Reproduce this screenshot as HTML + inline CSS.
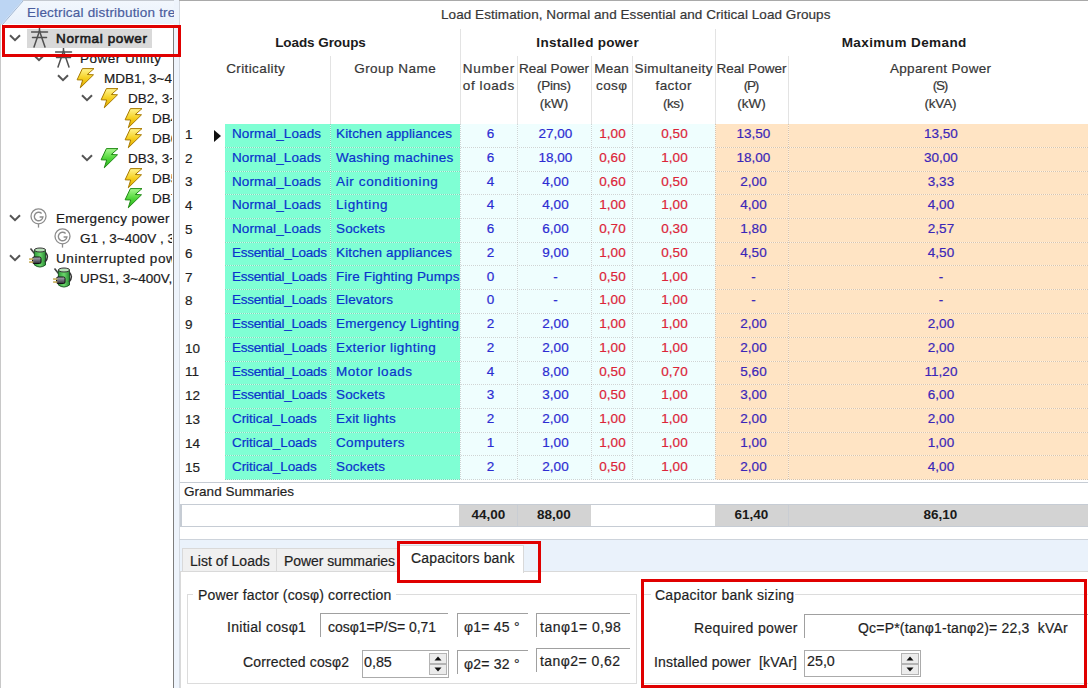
<!DOCTYPE html>
<html><head><meta charset="utf-8"><style>
html,body{margin:0;padding:0;}
body{width:1088px;height:688px;overflow:hidden;position:relative;background:#fff;font-family:"Liberation Sans", sans-serif;}
.t{position:absolute;white-space:pre;-webkit-text-stroke:0.2px currentColor;}
.r{position:absolute;box-sizing:content-box;}
</style></head><body>
<div class="r" style="left:0px;top:0px;width:1088px;height:1px;background:#a9a9a9;"></div>
<div class="r" style="left:0px;top:0px;width:179px;height:1px;background:#c4c9d0;"></div>
<div class="r" style="left:0px;top:1px;width:179px;height:23px;background:linear-gradient(#f2f7fd,#e9f1fb);"></div>
<svg class="r" style="left:0;top:0" width="30" height="26"><polygon points="0,0 23,0 1,25 0,25" fill="#bcd5f3"/><line x1="23" y1="1" x2="2" y2="25" stroke="#9fb6d3" stroke-width="1"/></svg>
<div class="t" style="left:27px;top:5px;font-size:13.5px;line-height:15px;color:#4a5d9e;letter-spacing:0.192px;width:147px;overflow:hidden;">Electrical distribution tree</div>
<div class="r" style="left:0px;top:24px;width:1px;height:664px;background:#c8c8c8;"></div>
<div class="r" style="left:173px;top:25px;width:1px;height:663px;background:#7d7d7d;"></div>
<div class="r" style="left:174px;top:0px;width:5px;height:688px;background:#eef4fc;"></div>
<div class="r" style="left:179px;top:0px;width:1px;height:688px;background:#d3d8df;"></div>
<div class="r" style="left:179px;top:0px;width:1px;height:1px;background:#a9a9a9;"></div>
<div class="r" style="left:27px;top:29px;width:125px;height:19px;background:#d9d9d9;"></div>
<svg width="0" height="0" style="position:absolute"><defs><linearGradient id="y" x1="0" y1="0" x2="0" y2="1"><stop offset="0" stop-color="#fff590"/><stop offset="0.5" stop-color="#f5d020"/><stop offset="1" stop-color="#e0a800"/></linearGradient><linearGradient id="g" x1="0" y1="0" x2="0" y2="1"><stop offset="0" stop-color="#a8f890"/><stop offset="0.5" stop-color="#52d83a"/><stop offset="1" stop-color="#2ab020"/></linearGradient><linearGradient id="ug" x1="0" y1="0" x2="1" y2="0"><stop offset="0" stop-color="#2f9a3a"/><stop offset="0.5" stop-color="#6bd86b"/><stop offset="1" stop-color="#2a8a35"/></linearGradient><linearGradient id="pg" x1="0" y1="0" x2="0" y2="1"><stop offset="0" stop-color="#b0b0bc"/><stop offset="1" stop-color="#303038"/></linearGradient></defs></svg>
<svg class="r" style="left:9px;top:34px" width="12" height="8"><polyline points="1,1.2 6,6.2 11,1.2" fill="none" stroke="#555" stroke-width="2"/></svg>
<svg class="r" style="left:31px;top:28px" width="18" height="20"><g stroke="#505050" stroke-width="1.5" fill="none" stroke-linecap="round"><line x1="8.5" y1="0.5" x2="8.5" y2="4"/><line x1="0.5" y1="4" x2="16.5" y2="4"/><line x1="1.5" y1="9.5" x2="15.5" y2="9.5"/><line x1="8.5" y1="3" x2="3" y2="19"/><line x1="8.5" y1="3" x2="14" y2="19"/></g></svg>
<div class="t" style="left:56px;top:31px;font-size:13.5px;line-height:15px;color:#1a1a1a;letter-spacing:0.634px;width:116px;overflow:hidden;-webkit-text-stroke:0.6px #1a1a1a;">Normal power</div>
<svg class="r" style="left:33px;top:54px" width="12" height="8"><polyline points="1,1.2 6,6.2 11,1.2" fill="none" stroke="#555" stroke-width="2"/></svg>
<svg class="r" style="left:55px;top:48px" width="18" height="20"><g stroke="#505050" stroke-width="1.5" fill="none" stroke-linecap="round"><line x1="8.5" y1="0.5" x2="8.5" y2="4"/><line x1="0.5" y1="4" x2="16.5" y2="4"/><line x1="1.5" y1="9.5" x2="15.5" y2="9.5"/><line x1="8.5" y1="3" x2="3" y2="19"/><line x1="8.5" y1="3" x2="14" y2="19"/></g></svg>
<div class="t" style="left:80px;top:51px;font-size:13.5px;line-height:15px;color:#1a1a1a;letter-spacing:0.499px;width:92px;overflow:hidden;">Power Utility</div>
<svg class="r" style="left:57px;top:74px" width="12" height="8"><polyline points="1,1.2 6,6.2 11,1.2" fill="none" stroke="#555" stroke-width="2"/></svg>
<svg class="r" style="left:76px;top:68px" width="20" height="22"><polygon points="6.4,0.6 18,0.6 11.3,6.5 17.5,6.8 4.3,19.8 6.7,12 1.1,11.8" fill="url(#y)" stroke="#a87a00" stroke-width="1" stroke-linejoin="round"/></svg>
<div class="t" style="left:104px;top:71px;font-size:13.5px;line-height:15px;color:#1a1a1a;width:68px;overflow:hidden;">MDB1, 3~400V, 50Hz</div>
<svg class="r" style="left:81px;top:94px" width="12" height="8"><polyline points="1,1.2 6,6.2 11,1.2" fill="none" stroke="#555" stroke-width="2"/></svg>
<svg class="r" style="left:100px;top:88px" width="20" height="22"><polygon points="6.4,0.6 18,0.6 11.3,6.5 17.5,6.8 4.3,19.8 6.7,12 1.1,11.8" fill="url(#y)" stroke="#a87a00" stroke-width="1" stroke-linejoin="round"/></svg>
<div class="t" style="left:128px;top:91px;font-size:13.5px;line-height:15px;color:#1a1a1a;width:44px;overflow:hidden;">DB2, 3~400V</div>
<svg class="r" style="left:124px;top:108px" width="20" height="22"><polygon points="6.4,0.6 18,0.6 11.3,6.5 17.5,6.8 4.3,19.8 6.7,12 1.1,11.8" fill="url(#y)" stroke="#a87a00" stroke-width="1" stroke-linejoin="round"/></svg>
<div class="t" style="left:152px;top:111px;font-size:13.5px;line-height:15px;color:#1a1a1a;width:20px;overflow:hidden;">DB4, 3~400V</div>
<svg class="r" style="left:124px;top:128px" width="20" height="22"><polygon points="6.4,0.6 18,0.6 11.3,6.5 17.5,6.8 4.3,19.8 6.7,12 1.1,11.8" fill="url(#y)" stroke="#a87a00" stroke-width="1" stroke-linejoin="round"/></svg>
<div class="t" style="left:152px;top:131px;font-size:13.5px;line-height:15px;color:#1a1a1a;width:20px;overflow:hidden;">DB6, 3~400V</div>
<svg class="r" style="left:81px;top:154px" width="12" height="8"><polyline points="1,1.2 6,6.2 11,1.2" fill="none" stroke="#555" stroke-width="2"/></svg>
<svg class="r" style="left:100px;top:148px" width="20" height="22"><polygon points="6.4,0.6 18,0.6 11.3,6.5 17.5,6.8 4.3,19.8 6.7,12 1.1,11.8" fill="url(#g)" stroke="#1f8a14" stroke-width="1" stroke-linejoin="round"/></svg>
<div class="t" style="left:128px;top:151px;font-size:13.5px;line-height:15px;color:#1a1a1a;width:44px;overflow:hidden;">DB3, 3~400V</div>
<svg class="r" style="left:124px;top:168px" width="20" height="22"><polygon points="6.4,0.6 18,0.6 11.3,6.5 17.5,6.8 4.3,19.8 6.7,12 1.1,11.8" fill="url(#y)" stroke="#a87a00" stroke-width="1" stroke-linejoin="round"/></svg>
<div class="t" style="left:152px;top:171px;font-size:13.5px;line-height:15px;color:#1a1a1a;width:20px;overflow:hidden;">DB5, 3~400V</div>
<svg class="r" style="left:124px;top:188px" width="20" height="22"><polygon points="6.4,0.6 18,0.6 11.3,6.5 17.5,6.8 4.3,19.8 6.7,12 1.1,11.8" fill="url(#g)" stroke="#1f8a14" stroke-width="1" stroke-linejoin="round"/></svg>
<div class="t" style="left:152px;top:191px;font-size:13.5px;line-height:15px;color:#1a1a1a;width:20px;overflow:hidden;">DB7, 3~400V</div>
<svg class="r" style="left:9px;top:214px" width="12" height="8"><polyline points="1,1.2 6,6.2 11,1.2" fill="none" stroke="#555" stroke-width="2"/></svg>
<svg class="r" style="left:30px;top:208px" width="19" height="21"><circle cx="8.5" cy="8.3" r="7.5" fill="#fff" stroke="#8c8c8c" stroke-width="1.3"/><path d="M11.6,5.4 A4.3,4.3 0 1 0 12.9,9 L9.6,9" fill="none" stroke="#8c8c8c" stroke-width="1.4"/><line x1="8.5" y1="15.8" x2="8.5" y2="19.6" stroke="#8c8c8c" stroke-width="1.3"/></svg>
<div class="t" style="left:56px;top:211px;font-size:13.5px;line-height:15px;color:#1a1a1a;letter-spacing:0.335px;width:116px;overflow:hidden;">Emergency power</div>
<svg class="r" style="left:54px;top:228px" width="19" height="21"><circle cx="8.5" cy="8.3" r="7.5" fill="#fff" stroke="#8c8c8c" stroke-width="1.3"/><path d="M11.6,5.4 A4.3,4.3 0 1 0 12.9,9 L9.6,9" fill="none" stroke="#8c8c8c" stroke-width="1.4"/><line x1="8.5" y1="15.8" x2="8.5" y2="19.6" stroke="#8c8c8c" stroke-width="1.3"/></svg>
<div class="t" style="left:80px;top:231px;font-size:13.5px;line-height:15px;color:#1a1a1a;width:92px;overflow:hidden;">G1 , 3~400V , 300kVA</div>
<svg class="r" style="left:9px;top:254px" width="12" height="8"><polyline points="1,1.2 6,6.2 11,1.2" fill="none" stroke="#555" stroke-width="2"/></svg>
<svg class="r" style="left:28px;top:247px" width="22" height="22"><line x1="2.5" y1="1.4" x2="6.5" y2="6.5" stroke="#444" stroke-width="1.6"/><path d="M6.4,3 L6.4,18 Q12,22 17.5,18 L17.5,3 Z" fill="url(#ug)" stroke="#1d5a25" stroke-width="1"/><ellipse cx="12" cy="3" rx="5.6" ry="2" fill="#b8e0b8" stroke="#333" stroke-width="1"/><path d="M17.5,5.5 Q21.5,10 17,15" fill="none" stroke="#333" stroke-width="1.5"/><rect x="4.5" y="10" width="8.5" height="6.5" rx="1.5" fill="url(#pg)" stroke="#111" stroke-width="1"/><rect x="1.1" y="11.2" width="4.2" height="1.7" fill="#c8b060"/><rect x="1.1" y="14.2" width="4.2" height="1.7" fill="#c8b060"/></svg>
<div class="t" style="left:56px;top:251px;font-size:13.5px;line-height:15px;color:#1a1a1a;letter-spacing:0.593px;width:116px;overflow:hidden;">Uninterrupted power</div>
<svg class="r" style="left:52px;top:267px" width="22" height="22"><line x1="2.5" y1="1.4" x2="6.5" y2="6.5" stroke="#444" stroke-width="1.6"/><path d="M6.4,3 L6.4,18 Q12,22 17.5,18 L17.5,3 Z" fill="url(#ug)" stroke="#1d5a25" stroke-width="1"/><ellipse cx="12" cy="3" rx="5.6" ry="2" fill="#b8e0b8" stroke="#333" stroke-width="1"/><path d="M17.5,5.5 Q21.5,10 17,15" fill="none" stroke="#333" stroke-width="1.5"/><rect x="4.5" y="10" width="8.5" height="6.5" rx="1.5" fill="url(#pg)" stroke="#111" stroke-width="1"/><rect x="1.1" y="11.2" width="4.2" height="1.7" fill="#c8b060"/><rect x="1.1" y="14.2" width="4.2" height="1.7" fill="#c8b060"/></svg>
<div class="t" style="left:80px;top:271px;font-size:13.5px;line-height:15px;color:#1a1a1a;width:92px;overflow:hidden;">UPS1, 3~400V, 100kVA</div>
<div class="r" style="left:2px;top:25px;width:173px;height:26px;border:3px solid #e00000"></div>
<div class="t" style="left:441px;top:7px;font-size:13.5px;line-height:15px;color:#363636;letter-spacing:0.061px;">Load Estimation, Normal and Essential and Critical Load Groups</div>
<div class="r" style="left:460px;top:29px;width:1px;height:95px;background:#e3e3e3;"></div>
<div class="r" style="left:715px;top:29px;width:1px;height:95px;background:#e3e3e3;"></div>
<div class="r" style="left:330px;top:56px;width:1px;height:68px;background:#e3e3e3;"></div>
<div class="r" style="left:517px;top:56px;width:1px;height:68px;background:#e3e3e3;"></div>
<div class="r" style="left:591px;top:56px;width:1px;height:68px;background:#e3e3e3;"></div>
<div class="r" style="left:632px;top:56px;width:1px;height:68px;background:#e3e3e3;"></div>
<div class="r" style="left:788px;top:56px;width:1px;height:68px;background:#e3e3e3;"></div>
<div class="t" style="left:181px;top:35px;font-size:13.5px;line-height:15px;color:#1a1a1a;font-weight:bold;-webkit-text-stroke:0;letter-spacing:-0.083px;width:279px;text-align:center;text-indent:-0.083px;">Loads Groups</div>
<div class="t" style="left:460px;top:35px;font-size:13.5px;line-height:15px;color:#1a1a1a;font-weight:bold;-webkit-text-stroke:0;letter-spacing:0.287px;width:255px;text-align:center;text-indent:0.287px;">Installed power</div>
<div class="t" style="left:715px;top:35px;font-size:13.5px;line-height:15px;color:#1a1a1a;font-weight:bold;-webkit-text-stroke:0;letter-spacing:0.417px;width:378px;text-align:center;text-indent:0.417px;">Maximum Demand</div>
<div class="t" style="left:181px;top:61px;font-size:13.5px;line-height:15px;color:#363636;letter-spacing:0.383px;width:149px;text-align:center;text-indent:0.383px;">Criticality</div>
<div class="t" style="left:330px;top:61px;font-size:13.5px;line-height:15px;color:#363636;letter-spacing:0.489px;width:130px;text-align:center;text-indent:0.489px;">Group Name</div>
<div class="t" style="left:460px;top:61px;font-size:13.5px;line-height:15px;color:#363636;letter-spacing:0.657px;width:57px;text-align:center;text-indent:0.657px;">Number</div>
<div class="t" style="left:460px;top:78px;font-size:13.5px;line-height:15px;color:#363636;letter-spacing:0.586px;width:57px;text-align:center;text-indent:0.586px;">of loads</div>
<div class="t" style="left:517px;top:61px;font-size:13.5px;line-height:15px;color:#363636;letter-spacing:0.024px;width:74px;text-align:center;text-indent:0.024px;">Real Power</div>
<div class="t" style="left:517px;top:78px;font-size:13.5px;line-height:15px;color:#363636;letter-spacing:-0.253px;width:74px;text-align:center;text-indent:-0.253px;">(Pins)</div>
<div class="t" style="left:517px;top:96px;font-size:13.5px;line-height:15px;color:#363636;letter-spacing:-0.061px;width:74px;text-align:center;text-indent:-0.061px;">(kW)</div>
<div class="t" style="left:591px;top:61px;font-size:13.5px;line-height:15px;color:#363636;letter-spacing:0.240px;width:41px;text-align:center;text-indent:0.240px;">Mean</div>
<div class="t" style="left:591px;top:78px;font-size:13.5px;line-height:15px;color:#363636;letter-spacing:0.345px;width:41px;text-align:center;text-indent:0.345px;">cosφ</div>
<div class="t" style="left:632px;top:61px;font-size:13.5px;line-height:15px;color:#363636;letter-spacing:0.405px;width:83px;text-align:center;text-indent:0.405px;">Simultaneity</div>
<div class="t" style="left:632px;top:78px;font-size:13.5px;line-height:15px;color:#363636;letter-spacing:0.487px;width:83px;text-align:center;text-indent:0.487px;">factor</div>
<div class="t" style="left:632px;top:96px;font-size:13.5px;line-height:15px;color:#363636;letter-spacing:-0.500px;width:83px;text-align:center;text-indent:-0.500px;">(ks)</div>
<div class="t" style="left:715px;top:61px;font-size:13.5px;line-height:15px;color:#363636;letter-spacing:0.024px;width:73px;text-align:center;text-indent:0.024px;">Real Power</div>
<div class="t" style="left:715px;top:78px;font-size:13.5px;line-height:15px;color:#363636;letter-spacing:-1.300px;width:73px;text-align:center;text-indent:-1.300px;">(P)</div>
<div class="t" style="left:715px;top:96px;font-size:13.5px;line-height:15px;color:#363636;letter-spacing:-0.061px;width:73px;text-align:center;text-indent:-0.061px;">(kW)</div>
<div class="t" style="left:788px;top:61px;font-size:13.5px;line-height:15px;color:#363636;letter-spacing:0.338px;width:305px;text-align:center;text-indent:0.338px;">Apparent Power</div>
<div class="t" style="left:788px;top:78px;font-size:13.5px;line-height:15px;color:#363636;letter-spacing:-1.150px;width:305px;text-align:center;text-indent:-1.150px;">(S)</div>
<div class="t" style="left:788px;top:96px;font-size:13.5px;line-height:15px;color:#363636;letter-spacing:-0.137px;width:305px;text-align:center;text-indent:-0.137px;">(kVA)</div>
<div class="r" style="left:225px;top:124px;width:235px;height:356px;background:#7fffd4;"></div>
<div class="r" style="left:460px;top:124px;width:255px;height:356px;background:#effefe;"></div>
<div class="r" style="left:715px;top:124px;width:373px;height:356px;background:#ffe4c4;"></div>
<div class="r" style="left:225px;top:147px;width:863px;height:1px;background:repeating-linear-gradient(90deg,rgba(128,128,128,0.32) 0 1px,rgba(255,255,255,0.55) 1px 2px)"></div>
<div class="r" style="left:225px;top:171px;width:863px;height:1px;background:repeating-linear-gradient(90deg,rgba(128,128,128,0.32) 0 1px,rgba(255,255,255,0.55) 1px 2px)"></div>
<div class="r" style="left:225px;top:194px;width:863px;height:1px;background:repeating-linear-gradient(90deg,rgba(128,128,128,0.32) 0 1px,rgba(255,255,255,0.55) 1px 2px)"></div>
<div class="r" style="left:225px;top:218px;width:863px;height:1px;background:repeating-linear-gradient(90deg,rgba(128,128,128,0.32) 0 1px,rgba(255,255,255,0.55) 1px 2px)"></div>
<div class="r" style="left:225px;top:242px;width:863px;height:1px;background:repeating-linear-gradient(90deg,rgba(128,128,128,0.32) 0 1px,rgba(255,255,255,0.55) 1px 2px)"></div>
<div class="r" style="left:225px;top:265px;width:863px;height:1px;background:repeating-linear-gradient(90deg,rgba(128,128,128,0.32) 0 1px,rgba(255,255,255,0.55) 1px 2px)"></div>
<div class="r" style="left:225px;top:289px;width:863px;height:1px;background:repeating-linear-gradient(90deg,rgba(128,128,128,0.32) 0 1px,rgba(255,255,255,0.55) 1px 2px)"></div>
<div class="r" style="left:225px;top:313px;width:863px;height:1px;background:repeating-linear-gradient(90deg,rgba(128,128,128,0.32) 0 1px,rgba(255,255,255,0.55) 1px 2px)"></div>
<div class="r" style="left:225px;top:337px;width:863px;height:1px;background:repeating-linear-gradient(90deg,rgba(128,128,128,0.32) 0 1px,rgba(255,255,255,0.55) 1px 2px)"></div>
<div class="r" style="left:225px;top:361px;width:863px;height:1px;background:repeating-linear-gradient(90deg,rgba(128,128,128,0.32) 0 1px,rgba(255,255,255,0.55) 1px 2px)"></div>
<div class="r" style="left:225px;top:384px;width:863px;height:1px;background:repeating-linear-gradient(90deg,rgba(128,128,128,0.32) 0 1px,rgba(255,255,255,0.55) 1px 2px)"></div>
<div class="r" style="left:225px;top:408px;width:863px;height:1px;background:repeating-linear-gradient(90deg,rgba(128,128,128,0.32) 0 1px,rgba(255,255,255,0.55) 1px 2px)"></div>
<div class="r" style="left:225px;top:432px;width:863px;height:1px;background:repeating-linear-gradient(90deg,rgba(128,128,128,0.32) 0 1px,rgba(255,255,255,0.55) 1px 2px)"></div>
<div class="r" style="left:225px;top:455px;width:863px;height:1px;background:repeating-linear-gradient(90deg,rgba(128,128,128,0.32) 0 1px,rgba(255,255,255,0.55) 1px 2px)"></div>
<div class="r" style="left:225px;top:479px;width:863px;height:1px;background:repeating-linear-gradient(90deg,rgba(128,128,128,0.32) 0 1px,rgba(255,255,255,0.55) 1px 2px)"></div>
<div class="r" style="left:330px;top:124px;width:1px;height:356px;background:repeating-linear-gradient(180deg,rgba(128,128,128,0.32) 0 1px,rgba(255,255,255,0.55) 1px 2px)"></div>
<div class="r" style="left:460px;top:124px;width:1px;height:356px;background:repeating-linear-gradient(180deg,rgba(128,128,128,0.32) 0 1px,rgba(255,255,255,0.55) 1px 2px)"></div>
<div class="r" style="left:517px;top:124px;width:1px;height:356px;background:repeating-linear-gradient(180deg,rgba(128,128,128,0.32) 0 1px,rgba(255,255,255,0.55) 1px 2px)"></div>
<div class="r" style="left:591px;top:124px;width:1px;height:356px;background:repeating-linear-gradient(180deg,rgba(128,128,128,0.32) 0 1px,rgba(255,255,255,0.55) 1px 2px)"></div>
<div class="r" style="left:632px;top:124px;width:1px;height:356px;background:repeating-linear-gradient(180deg,rgba(128,128,128,0.32) 0 1px,rgba(255,255,255,0.55) 1px 2px)"></div>
<div class="r" style="left:715px;top:124px;width:1px;height:356px;background:repeating-linear-gradient(180deg,rgba(128,128,128,0.32) 0 1px,rgba(255,255,255,0.55) 1px 2px)"></div>
<div class="r" style="left:788px;top:124px;width:1px;height:356px;background:repeating-linear-gradient(180deg,rgba(128,128,128,0.32) 0 1px,rgba(255,255,255,0.55) 1px 2px)"></div>
<div class="t" style="left:185px;top:127px;font-size:13.5px;line-height:15px;color:#1f1f1f;">1</div>
<div class="t" style="left:232px;top:126px;font-size:13.5px;line-height:15px;color:#0a32cc;letter-spacing:0.109px;">Normal_Loads</div>
<div class="t" style="left:336px;top:126px;font-size:13.5px;line-height:15px;color:#0a32cc;letter-spacing:0.151px;">Kitchen appliances</div>
<div class="t" style="left:462px;top:126px;font-size:13.5px;line-height:15px;color:#2c2cd2;width:57px;text-align:center;">6</div>
<div class="t" style="left:518.5px;top:126px;font-size:13.5px;line-height:15px;color:#2c2cd2;width:74px;text-align:center;">27,00</div>
<div class="t" style="left:592px;top:126px;font-size:13.5px;line-height:15px;color:#dc2438;width:41px;text-align:center;">1,00</div>
<div class="t" style="left:633px;top:126px;font-size:13.5px;line-height:15px;color:#dc2438;width:83px;text-align:center;">0,50</div>
<div class="t" style="left:717px;top:126px;font-size:13.5px;line-height:15px;color:#3a26b8;width:73px;text-align:center;">13,50</div>
<div class="t" style="left:788.5px;top:126px;font-size:13.5px;line-height:15px;color:#3a26b8;width:305px;text-align:center;">13,50</div>
<div class="t" style="left:185px;top:151px;font-size:13.5px;line-height:15px;color:#1f1f1f;">2</div>
<div class="t" style="left:232px;top:150px;font-size:13.5px;line-height:15px;color:#0a32cc;letter-spacing:0.109px;">Normal_Loads</div>
<div class="t" style="left:336px;top:150px;font-size:13.5px;line-height:15px;color:#0a32cc;letter-spacing:0.243px;">Washing machines</div>
<div class="t" style="left:462px;top:150px;font-size:13.5px;line-height:15px;color:#2c2cd2;width:57px;text-align:center;">6</div>
<div class="t" style="left:518.5px;top:150px;font-size:13.5px;line-height:15px;color:#2c2cd2;width:74px;text-align:center;">18,00</div>
<div class="t" style="left:592px;top:150px;font-size:13.5px;line-height:15px;color:#dc2438;width:41px;text-align:center;">0,60</div>
<div class="t" style="left:633px;top:150px;font-size:13.5px;line-height:15px;color:#dc2438;width:83px;text-align:center;">1,00</div>
<div class="t" style="left:717px;top:150px;font-size:13.5px;line-height:15px;color:#3a26b8;width:73px;text-align:center;">18,00</div>
<div class="t" style="left:788.5px;top:150px;font-size:13.5px;line-height:15px;color:#3a26b8;width:305px;text-align:center;">30,00</div>
<div class="t" style="left:185px;top:174px;font-size:13.5px;line-height:15px;color:#1f1f1f;">3</div>
<div class="t" style="left:232px;top:174px;font-size:13.5px;line-height:15px;color:#0a32cc;letter-spacing:0.109px;">Normal_Loads</div>
<div class="t" style="left:336px;top:174px;font-size:13.5px;line-height:15px;color:#0a32cc;letter-spacing:0.632px;">Air conditioning</div>
<div class="t" style="left:462px;top:174px;font-size:13.5px;line-height:15px;color:#2c2cd2;width:57px;text-align:center;">4</div>
<div class="t" style="left:518.5px;top:174px;font-size:13.5px;line-height:15px;color:#2c2cd2;width:74px;text-align:center;">4,00</div>
<div class="t" style="left:592px;top:174px;font-size:13.5px;line-height:15px;color:#dc2438;width:41px;text-align:center;">0,60</div>
<div class="t" style="left:633px;top:174px;font-size:13.5px;line-height:15px;color:#dc2438;width:83px;text-align:center;">0,50</div>
<div class="t" style="left:717px;top:174px;font-size:13.5px;line-height:15px;color:#3a26b8;width:73px;text-align:center;">2,00</div>
<div class="t" style="left:788.5px;top:174px;font-size:13.5px;line-height:15px;color:#3a26b8;width:305px;text-align:center;">3,33</div>
<div class="t" style="left:185px;top:198px;font-size:13.5px;line-height:15px;color:#1f1f1f;">4</div>
<div class="t" style="left:232px;top:197px;font-size:13.5px;line-height:15px;color:#0a32cc;letter-spacing:0.109px;">Normal_Loads</div>
<div class="t" style="left:336px;top:197px;font-size:13.5px;line-height:15px;color:#0a32cc;letter-spacing:0.615px;">Lighting</div>
<div class="t" style="left:462px;top:197px;font-size:13.5px;line-height:15px;color:#2c2cd2;width:57px;text-align:center;">4</div>
<div class="t" style="left:518.5px;top:197px;font-size:13.5px;line-height:15px;color:#2c2cd2;width:74px;text-align:center;">4,00</div>
<div class="t" style="left:592px;top:197px;font-size:13.5px;line-height:15px;color:#dc2438;width:41px;text-align:center;">1,00</div>
<div class="t" style="left:633px;top:197px;font-size:13.5px;line-height:15px;color:#dc2438;width:83px;text-align:center;">1,00</div>
<div class="t" style="left:717px;top:197px;font-size:13.5px;line-height:15px;color:#3a26b8;width:73px;text-align:center;">4,00</div>
<div class="t" style="left:788.5px;top:197px;font-size:13.5px;line-height:15px;color:#3a26b8;width:305px;text-align:center;">4,00</div>
<div class="t" style="left:185px;top:222px;font-size:13.5px;line-height:15px;color:#1f1f1f;">5</div>
<div class="t" style="left:232px;top:221px;font-size:13.5px;line-height:15px;color:#0a32cc;letter-spacing:0.109px;">Normal_Loads</div>
<div class="t" style="left:336px;top:221px;font-size:13.5px;line-height:15px;color:#0a32cc;letter-spacing:0.161px;">Sockets</div>
<div class="t" style="left:462px;top:221px;font-size:13.5px;line-height:15px;color:#2c2cd2;width:57px;text-align:center;">6</div>
<div class="t" style="left:518.5px;top:221px;font-size:13.5px;line-height:15px;color:#2c2cd2;width:74px;text-align:center;">6,00</div>
<div class="t" style="left:592px;top:221px;font-size:13.5px;line-height:15px;color:#dc2438;width:41px;text-align:center;">0,70</div>
<div class="t" style="left:633px;top:221px;font-size:13.5px;line-height:15px;color:#dc2438;width:83px;text-align:center;">0,30</div>
<div class="t" style="left:717px;top:221px;font-size:13.5px;line-height:15px;color:#3a26b8;width:73px;text-align:center;">1,80</div>
<div class="t" style="left:788.5px;top:221px;font-size:13.5px;line-height:15px;color:#3a26b8;width:305px;text-align:center;">2,57</div>
<div class="t" style="left:185px;top:246px;font-size:13.5px;line-height:15px;color:#1f1f1f;">6</div>
<div class="t" style="left:232px;top:245px;font-size:13.5px;line-height:15px;color:#0a32cc;letter-spacing:-0.291px;">Essential_Loads</div>
<div class="t" style="left:336px;top:245px;font-size:13.5px;line-height:15px;color:#0a32cc;letter-spacing:0.151px;">Kitchen appliances</div>
<div class="t" style="left:462px;top:245px;font-size:13.5px;line-height:15px;color:#2c2cd2;width:57px;text-align:center;">2</div>
<div class="t" style="left:518.5px;top:245px;font-size:13.5px;line-height:15px;color:#2c2cd2;width:74px;text-align:center;">9,00</div>
<div class="t" style="left:592px;top:245px;font-size:13.5px;line-height:15px;color:#dc2438;width:41px;text-align:center;">1,00</div>
<div class="t" style="left:633px;top:245px;font-size:13.5px;line-height:15px;color:#dc2438;width:83px;text-align:center;">0,50</div>
<div class="t" style="left:717px;top:245px;font-size:13.5px;line-height:15px;color:#3a26b8;width:73px;text-align:center;">4,50</div>
<div class="t" style="left:788.5px;top:245px;font-size:13.5px;line-height:15px;color:#3a26b8;width:305px;text-align:center;">4,50</div>
<div class="t" style="left:185px;top:270px;font-size:13.5px;line-height:15px;color:#1f1f1f;">7</div>
<div class="t" style="left:232px;top:269px;font-size:13.5px;line-height:15px;color:#0a32cc;letter-spacing:-0.291px;">Essential_Loads</div>
<div class="t" style="left:336px;top:269px;font-size:13.5px;line-height:15px;color:#0a32cc;letter-spacing:0.150px;">Fire Fighting Pumps</div>
<div class="t" style="left:462px;top:269px;font-size:13.5px;line-height:15px;color:#2c2cd2;width:57px;text-align:center;">0</div>
<div class="t" style="left:518.5px;top:269px;font-size:13.5px;line-height:15px;color:#2c2cd2;width:74px;text-align:center;">-</div>
<div class="t" style="left:592px;top:269px;font-size:13.5px;line-height:15px;color:#dc2438;width:41px;text-align:center;">0,50</div>
<div class="t" style="left:633px;top:269px;font-size:13.5px;line-height:15px;color:#dc2438;width:83px;text-align:center;">1,00</div>
<div class="t" style="left:717px;top:269px;font-size:13.5px;line-height:15px;color:#3a26b8;width:73px;text-align:center;">-</div>
<div class="t" style="left:788.5px;top:269px;font-size:13.5px;line-height:15px;color:#3a26b8;width:305px;text-align:center;">-</div>
<div class="t" style="left:185px;top:293px;font-size:13.5px;line-height:15px;color:#1f1f1f;">8</div>
<div class="t" style="left:232px;top:292px;font-size:13.5px;line-height:15px;color:#0a32cc;letter-spacing:-0.291px;">Essential_Loads</div>
<div class="t" style="left:336px;top:292px;font-size:13.5px;line-height:15px;color:#0a32cc;letter-spacing:0.090px;">Elevators</div>
<div class="t" style="left:462px;top:292px;font-size:13.5px;line-height:15px;color:#2c2cd2;width:57px;text-align:center;">0</div>
<div class="t" style="left:518.5px;top:292px;font-size:13.5px;line-height:15px;color:#2c2cd2;width:74px;text-align:center;">-</div>
<div class="t" style="left:592px;top:292px;font-size:13.5px;line-height:15px;color:#dc2438;width:41px;text-align:center;">1,00</div>
<div class="t" style="left:633px;top:292px;font-size:13.5px;line-height:15px;color:#dc2438;width:83px;text-align:center;">1,00</div>
<div class="t" style="left:717px;top:292px;font-size:13.5px;line-height:15px;color:#3a26b8;width:73px;text-align:center;">-</div>
<div class="t" style="left:788.5px;top:292px;font-size:13.5px;line-height:15px;color:#3a26b8;width:305px;text-align:center;">-</div>
<div class="t" style="left:185px;top:317px;font-size:13.5px;line-height:15px;color:#1f1f1f;">9</div>
<div class="t" style="left:232px;top:316px;font-size:13.5px;line-height:15px;color:#0a32cc;letter-spacing:-0.291px;">Essential_Loads</div>
<div class="t" style="left:336px;top:316px;font-size:13.5px;line-height:15px;color:#0a32cc;letter-spacing:0.216px;">Emergency Lighting</div>
<div class="t" style="left:462px;top:316px;font-size:13.5px;line-height:15px;color:#2c2cd2;width:57px;text-align:center;">2</div>
<div class="t" style="left:518.5px;top:316px;font-size:13.5px;line-height:15px;color:#2c2cd2;width:74px;text-align:center;">2,00</div>
<div class="t" style="left:592px;top:316px;font-size:13.5px;line-height:15px;color:#dc2438;width:41px;text-align:center;">1,00</div>
<div class="t" style="left:633px;top:316px;font-size:13.5px;line-height:15px;color:#dc2438;width:83px;text-align:center;">1,00</div>
<div class="t" style="left:717px;top:316px;font-size:13.5px;line-height:15px;color:#3a26b8;width:73px;text-align:center;">2,00</div>
<div class="t" style="left:788.5px;top:316px;font-size:13.5px;line-height:15px;color:#3a26b8;width:305px;text-align:center;">2,00</div>
<div class="t" style="left:185px;top:341px;font-size:13.5px;line-height:15px;color:#1f1f1f;">10</div>
<div class="t" style="left:232px;top:340px;font-size:13.5px;line-height:15px;color:#0a32cc;letter-spacing:-0.291px;">Essential_Loads</div>
<div class="t" style="left:336px;top:340px;font-size:13.5px;line-height:15px;color:#0a32cc;letter-spacing:0.419px;">Exterior lighting</div>
<div class="t" style="left:462px;top:340px;font-size:13.5px;line-height:15px;color:#2c2cd2;width:57px;text-align:center;">2</div>
<div class="t" style="left:518.5px;top:340px;font-size:13.5px;line-height:15px;color:#2c2cd2;width:74px;text-align:center;">2,00</div>
<div class="t" style="left:592px;top:340px;font-size:13.5px;line-height:15px;color:#dc2438;width:41px;text-align:center;">1,00</div>
<div class="t" style="left:633px;top:340px;font-size:13.5px;line-height:15px;color:#dc2438;width:83px;text-align:center;">1,00</div>
<div class="t" style="left:717px;top:340px;font-size:13.5px;line-height:15px;color:#3a26b8;width:73px;text-align:center;">2,00</div>
<div class="t" style="left:788.5px;top:340px;font-size:13.5px;line-height:15px;color:#3a26b8;width:305px;text-align:center;">2,00</div>
<div class="t" style="left:185px;top:364px;font-size:13.5px;line-height:15px;color:#1f1f1f;">11</div>
<div class="t" style="left:232px;top:364px;font-size:13.5px;line-height:15px;color:#0a32cc;letter-spacing:-0.291px;">Essential_Loads</div>
<div class="t" style="left:336px;top:364px;font-size:13.5px;line-height:15px;color:#0a32cc;letter-spacing:0.545px;">Motor loads</div>
<div class="t" style="left:462px;top:364px;font-size:13.5px;line-height:15px;color:#2c2cd2;width:57px;text-align:center;">4</div>
<div class="t" style="left:518.5px;top:364px;font-size:13.5px;line-height:15px;color:#2c2cd2;width:74px;text-align:center;">8,00</div>
<div class="t" style="left:592px;top:364px;font-size:13.5px;line-height:15px;color:#dc2438;width:41px;text-align:center;">0,50</div>
<div class="t" style="left:633px;top:364px;font-size:13.5px;line-height:15px;color:#dc2438;width:83px;text-align:center;">0,70</div>
<div class="t" style="left:717px;top:364px;font-size:13.5px;line-height:15px;color:#3a26b8;width:73px;text-align:center;">5,60</div>
<div class="t" style="left:788.5px;top:364px;font-size:13.5px;line-height:15px;color:#3a26b8;width:305px;text-align:center;">11,20</div>
<div class="t" style="left:185px;top:388px;font-size:13.5px;line-height:15px;color:#1f1f1f;">12</div>
<div class="t" style="left:232px;top:387px;font-size:13.5px;line-height:15px;color:#0a32cc;letter-spacing:-0.291px;">Essential_Loads</div>
<div class="t" style="left:336px;top:387px;font-size:13.5px;line-height:15px;color:#0a32cc;letter-spacing:0.161px;">Sockets</div>
<div class="t" style="left:462px;top:387px;font-size:13.5px;line-height:15px;color:#2c2cd2;width:57px;text-align:center;">3</div>
<div class="t" style="left:518.5px;top:387px;font-size:13.5px;line-height:15px;color:#2c2cd2;width:74px;text-align:center;">3,00</div>
<div class="t" style="left:592px;top:387px;font-size:13.5px;line-height:15px;color:#dc2438;width:41px;text-align:center;">0,50</div>
<div class="t" style="left:633px;top:387px;font-size:13.5px;line-height:15px;color:#dc2438;width:83px;text-align:center;">1,00</div>
<div class="t" style="left:717px;top:387px;font-size:13.5px;line-height:15px;color:#3a26b8;width:73px;text-align:center;">3,00</div>
<div class="t" style="left:788.5px;top:387px;font-size:13.5px;line-height:15px;color:#3a26b8;width:305px;text-align:center;">6,00</div>
<div class="t" style="left:185px;top:412px;font-size:13.5px;line-height:15px;color:#1f1f1f;">13</div>
<div class="t" style="left:232px;top:411px;font-size:13.5px;line-height:15px;color:#0a32cc;letter-spacing:-0.061px;">Critical_Loads</div>
<div class="t" style="left:336px;top:411px;font-size:13.5px;line-height:15px;color:#0a32cc;letter-spacing:0.197px;">Exit lights</div>
<div class="t" style="left:462px;top:411px;font-size:13.5px;line-height:15px;color:#2c2cd2;width:57px;text-align:center;">2</div>
<div class="t" style="left:518.5px;top:411px;font-size:13.5px;line-height:15px;color:#2c2cd2;width:74px;text-align:center;">2,00</div>
<div class="t" style="left:592px;top:411px;font-size:13.5px;line-height:15px;color:#dc2438;width:41px;text-align:center;">1,00</div>
<div class="t" style="left:633px;top:411px;font-size:13.5px;line-height:15px;color:#dc2438;width:83px;text-align:center;">1,00</div>
<div class="t" style="left:717px;top:411px;font-size:13.5px;line-height:15px;color:#3a26b8;width:73px;text-align:center;">2,00</div>
<div class="t" style="left:788.5px;top:411px;font-size:13.5px;line-height:15px;color:#3a26b8;width:305px;text-align:center;">2,00</div>
<div class="t" style="left:185px;top:436px;font-size:13.5px;line-height:15px;color:#1f1f1f;">14</div>
<div class="t" style="left:232px;top:435px;font-size:13.5px;line-height:15px;color:#0a32cc;letter-spacing:-0.061px;">Critical_Loads</div>
<div class="t" style="left:336px;top:435px;font-size:13.5px;line-height:15px;color:#0a32cc;letter-spacing:0.309px;">Computers</div>
<div class="t" style="left:462px;top:435px;font-size:13.5px;line-height:15px;color:#2c2cd2;width:57px;text-align:center;">1</div>
<div class="t" style="left:518.5px;top:435px;font-size:13.5px;line-height:15px;color:#2c2cd2;width:74px;text-align:center;">1,00</div>
<div class="t" style="left:592px;top:435px;font-size:13.5px;line-height:15px;color:#dc2438;width:41px;text-align:center;">1,00</div>
<div class="t" style="left:633px;top:435px;font-size:13.5px;line-height:15px;color:#dc2438;width:83px;text-align:center;">1,00</div>
<div class="t" style="left:717px;top:435px;font-size:13.5px;line-height:15px;color:#3a26b8;width:73px;text-align:center;">1,00</div>
<div class="t" style="left:788.5px;top:435px;font-size:13.5px;line-height:15px;color:#3a26b8;width:305px;text-align:center;">1,00</div>
<div class="t" style="left:185px;top:460px;font-size:13.5px;line-height:15px;color:#1f1f1f;">15</div>
<div class="t" style="left:232px;top:459px;font-size:13.5px;line-height:15px;color:#0a32cc;letter-spacing:-0.061px;">Critical_Loads</div>
<div class="t" style="left:336px;top:459px;font-size:13.5px;line-height:15px;color:#0a32cc;letter-spacing:0.161px;">Sockets</div>
<div class="t" style="left:462px;top:459px;font-size:13.5px;line-height:15px;color:#2c2cd2;width:57px;text-align:center;">2</div>
<div class="t" style="left:518.5px;top:459px;font-size:13.5px;line-height:15px;color:#2c2cd2;width:74px;text-align:center;">2,00</div>
<div class="t" style="left:592px;top:459px;font-size:13.5px;line-height:15px;color:#dc2438;width:41px;text-align:center;">0,50</div>
<div class="t" style="left:633px;top:459px;font-size:13.5px;line-height:15px;color:#dc2438;width:83px;text-align:center;">1,00</div>
<div class="t" style="left:717px;top:459px;font-size:13.5px;line-height:15px;color:#3a26b8;width:73px;text-align:center;">2,00</div>
<div class="t" style="left:788.5px;top:459px;font-size:13.5px;line-height:15px;color:#3a26b8;width:305px;text-align:center;">4,00</div>
<svg class="r" style="left:214px;top:130px" width="8" height="12"><polygon points="0,0 7,6 0,12" fill="#111"/></svg>
<div class="r" style="left:180px;top:482px;width:908px;height:1px;background:#c6ccd4;"></div>
<div class="t" style="left:184px;top:484px;font-size:13.5px;line-height:15px;color:#1f1f1f;letter-spacing:0.032px;">Grand Summaries</div>
<div class="r" style="left:180px;top:504px;width:908px;height:1px;background:#c6ccd4;"></div>
<div class="r" style="left:180px;top:505px;width:908px;height:21px;background:#fff;"></div>
<div class="r" style="left:459px;top:505px;width:132px;height:21px;background:#d3d3d3;"></div>
<div class="r" style="left:715px;top:505px;width:373px;height:21px;background:#d3d3d3;"></div>
<div class="r" style="left:517px;top:505px;width:1px;height:21px;background:#c9cdd3;"></div>
<div class="r" style="left:788px;top:505px;width:1px;height:21px;background:#c9cdd3;"></div>
<div class="r" style="left:180px;top:526px;width:908px;height:1px;background:#c6ccd4;"></div>
<div class="r" style="left:180px;top:504px;width:2px;height:23px;background:#c6ccd4;"></div>
<div class="t" style="left:460px;top:507px;font-size:13.5px;line-height:15px;color:#1a1a1a;font-weight:bold;-webkit-text-stroke:0;width:57px;text-align:center;">44,00</div>
<div class="t" style="left:517px;top:507px;font-size:13.5px;line-height:15px;color:#1a1a1a;font-weight:bold;-webkit-text-stroke:0;width:74px;text-align:center;">88,00</div>
<div class="t" style="left:715px;top:507px;font-size:13.5px;line-height:15px;color:#1a1a1a;font-weight:bold;-webkit-text-stroke:0;width:73px;text-align:center;">61,40</div>
<div class="t" style="left:788px;top:507px;font-size:13.5px;line-height:15px;color:#1a1a1a;font-weight:bold;-webkit-text-stroke:0;width:305px;text-align:center;">86,10</div>
<div class="r" style="left:179px;top:539px;width:909px;height:1px;background:#cdd3db;"></div>
<div class="r" style="left:180px;top:540px;width:908px;height:148px;background:#eaf2fb;"></div>
<div class="r" style="left:182px;top:548px;width:93px;height:23px;background:#f0f0f0;border:1px solid #d9d9d9;border-bottom:none"></div>
<div class="r" style="left:277px;top:548px;width:122px;height:23px;background:#f0f0f0;border:1px solid #d9d9d9;border-bottom:none;border-left:none"></div>
<div class="r" style="left:180px;top:571px;width:920px;height:130px;background:#fff;border:1px solid #d9d9d9"></div>
<div class="r" style="left:398px;top:545px;width:124px;height:27px;background:#fff;border:1px solid #d9d9d9;border-bottom:none"></div>
<div class="t" style="left:190px;top:553px;font-size:14px;line-height:16px;color:#1f1f1f;letter-spacing:0.034px;">List of Loads</div>
<div class="t" style="left:284px;top:553px;font-size:14px;line-height:16px;color:#1f1f1f;letter-spacing:-0.074px;">Power summaries</div>
<div class="t" style="left:411px;top:550px;font-size:14px;line-height:16px;color:#1f1f1f;letter-spacing:0.166px;">Capacitors bank</div>
<div class="r" style="left:187px;top:594px;width:448px;height:88px;border:1px solid #dcdcdc"></div>
<div class="r" style="left:193px;top:588px;width:203px;height:12px;background:#fff;"></div>
<div class="t" style="left:198px;top:587px;font-size:14px;line-height:16px;color:#1f1f1f;letter-spacing:0.178px;">Power factor (cosφ) correction</div>
<div class="r" style="left:643px;top:594px;width:460px;height:88px;border:1px solid #dcdcdc"></div>
<div class="r" style="left:651px;top:588px;width:144px;height:12px;background:#fff;"></div>
<div class="t" style="left:655px;top:587px;font-size:14px;line-height:16px;color:#1f1f1f;letter-spacing:0.262px;">Capacitor bank sizing</div>
<div class="t" style="left:227px;top:619px;font-size:14px;line-height:16px;color:#1f1f1f;letter-spacing:0.297px;">Initial cosφ1</div>
<div class="r" style="left:320px;top:613px;width:127px;height:23px;border-top:1px solid #a0a0a0;border-left:1px solid #a0a0a0"></div>
<div class="t" style="left:328px;top:619px;font-size:14px;line-height:16px;color:#1f1f1f;letter-spacing:-0.051px;">cosφ1=P/S= 0,71</div>
<div class="r" style="left:457px;top:613px;width:70px;height:23px;border-top:1px solid #a0a0a0;border-left:1px solid #a0a0a0"></div>
<div class="t" style="left:464px;top:619px;font-size:14px;line-height:16px;color:#1f1f1f;letter-spacing:0.229px;">φ1= 45 °</div>
<div class="r" style="left:536px;top:613px;width:93px;height:23px;border-top:1px solid #a0a0a0;border-left:1px solid #a0a0a0"></div>
<div class="t" style="left:540px;top:619px;font-size:14px;line-height:16px;color:#1f1f1f;letter-spacing:0.516px;">tanφ1= 0,98</div>
<div class="t" style="left:243px;top:654px;font-size:14px;line-height:16px;color:#1f1f1f;letter-spacing:0.142px;">Corrected cosφ2</div>
<div class="r" style="left:362px;top:650px;width:85px;height:26px;border:1px solid #ababab;background:#fff"></div>
<div class="r" style="left:429px;top:653px;width:16px;height:9px;background:#ececec;border:1px solid #b4b4b4"></div>
<div class="r" style="left:429px;top:664px;width:16px;height:9px;background:#ececec;border:1px solid #b4b4b4"></div>
<svg class="r" style="left:434px;top:656px" width="8" height="5"><polygon points="0.5,4.5 4,0.5 7.5,4.5" fill="#111"/></svg>
<svg class="r" style="left:434px;top:667px" width="8" height="5"><polygon points="0.5,0.5 4,4.5 7.5,0.5" fill="#111"/></svg>
<div class="t" style="left:364px;top:654px;font-size:14.3px;line-height:16px;color:#1f1f1f;">0,85</div>
<div class="r" style="left:457px;top:650px;width:70px;height:23px;border-top:1px solid #a0a0a0;border-left:1px solid #a0a0a0"></div>
<div class="t" style="left:464px;top:656px;font-size:14px;line-height:16px;color:#1f1f1f;letter-spacing:0.229px;">φ2= 32 °</div>
<div class="r" style="left:536px;top:648px;width:93px;height:23px;border-top:1px solid #a0a0a0;border-left:1px solid #a0a0a0"></div>
<div class="t" style="left:540px;top:653px;font-size:14px;line-height:16px;color:#1f1f1f;letter-spacing:0.436px;">tanφ2= 0,62</div>
<div class="t" style="left:694px;top:620px;font-size:14px;line-height:16px;color:#1f1f1f;letter-spacing:0.358px;">Required power</div>
<div class="r" style="left:804px;top:614px;width:290px;height:23px;border-top:1px solid #a0a0a0;border-left:1px solid #a0a0a0"></div>
<div class="t" style="left:858px;top:620px;font-size:14px;line-height:16px;color:#1f1f1f;letter-spacing:0.200px;">Qc=P*(tanφ1-tanφ2)= 22,3  kVAr</div>
<div class="t" style="left:654px;top:654px;font-size:14px;line-height:16px;color:#1f1f1f;letter-spacing:0.176px;">Installed power  [kVAr]</div>
<div class="r" style="left:804px;top:650px;width:115px;height:25px;border:1px solid #ababab;background:#fff"></div>
<div class="r" style="left:901px;top:653px;width:16px;height:9px;background:#ececec;border:1px solid #b4b4b4"></div>
<div class="r" style="left:901px;top:664px;width:16px;height:9px;background:#ececec;border:1px solid #b4b4b4"></div>
<svg class="r" style="left:906px;top:656px" width="8" height="5"><polygon points="0.5,4.5 4,0.5 7.5,4.5" fill="#111"/></svg>
<svg class="r" style="left:906px;top:667px" width="8" height="5"><polygon points="0.5,0.5 4,4.5 7.5,0.5" fill="#111"/></svg>
<div class="t" style="left:807px;top:653px;font-size:14.3px;line-height:16px;color:#1f1f1f;">25,0</div>
<div class="r" style="left:397px;top:541px;width:138px;height:36px;border:3px solid #e00000"></div>
<div class="r" style="left:641px;top:579px;width:440px;height:103px;border:3px solid #e00000"></div>
</body></html>
